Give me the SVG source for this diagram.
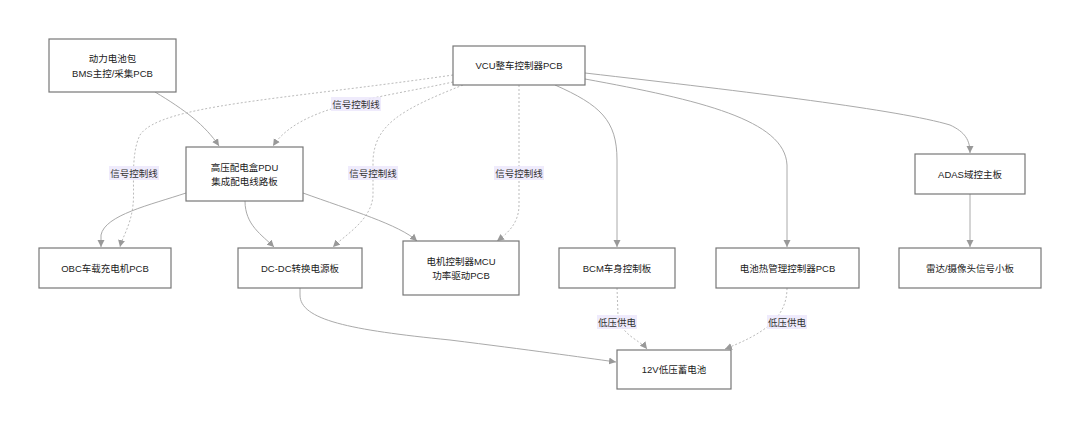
<svg xmlns="http://www.w3.org/2000/svg" width="1080" height="428" viewBox="0 0 1080 428">
<style>
.node rect{fill:#fff;stroke:#777;stroke-width:1.2}
.node text{font-family:"Liberation Sans","Noto Sans CJK SC",sans-serif;font-size:9.5px;fill:#222;text-anchor:middle;dominant-baseline:central}
.e{fill:none;stroke:#aaa;stroke-width:1}
.d{fill:none;stroke:#bbb;stroke-width:1;stroke-dasharray:2,2}
.lbl rect{fill:#ece8fb;opacity:0.85}
.lbl text{font-family:"Liberation Sans","Noto Sans CJK SC",sans-serif;font-size:9.5px;fill:#333;text-anchor:middle;dominant-baseline:central}
</style>
<defs>
<marker id="ah" markerUnits="userSpaceOnUse" markerWidth="8" markerHeight="8" refX="7" refY="4" orient="auto">
<path d="M0,0.5 L7,4 L0,7.5 z" fill="#999"/>
</marker>
</defs>
<rect width="1080" height="428" fill="#fff"/>
<g id="connectors">
<path class="e" d="M155,92 C185,110 205,125 219,146" marker-end="url(#ah)"/>
<path class="d" d="M453,82 C380,98 300,105 273,146" marker-end="url(#ah)"/>
<path class="d" d="M453,75 C280,100 160,105 140,135 C130,155 135,190 133,205 C131,225 122,238 120,247" marker-end="url(#ah)"/>
<path class="d" d="M463,85 C400,110 375,125 373,160 L373,195 C372,220 345,235 333,247" marker-end="url(#ah)"/>
<path class="d" d="M519,85 L519,205 C519,225 505,235 497,241" marker-end="url(#ah)"/>
<path class="e" d="M555,85 C600,105 617,120 617,160 L617,247" marker-end="url(#ah)"/>
<path class="e" d="M585,79 C700,100 785,120 787,165 L787,247" marker-end="url(#ah)"/>
<path class="e" d="M585,73 C750,92 900,110 950,125 C965,132 970,140 970,153" marker-end="url(#ah)"/>
<path class="e" d="M186,193 C150,205 105,215 101,235 L101,247" marker-end="url(#ah)"/>
<path class="e" d="M245,201 C245,225 262,235 274,247" marker-end="url(#ah)"/>
<path class="e" d="M303,193 C350,210 400,225 417,241" marker-end="url(#ah)"/>
<path class="e" d="M970,194 L970,247" marker-end="url(#ah)"/>
<path class="e" d="M300,288 L300,295 C300,320 350,330 450,340 C530,350 580,357 616,362" marker-end="url(#ah)"/>
<path class="d" d="M617,288 L618,315 C620,335 640,340 647,349" marker-end="url(#ah)"/>
<path class="d" d="M787,288 C787,320 760,335 725,349" marker-end="url(#ah)"/>
<g class="lbl"><rect x="331" y="97" width="50" height="14"/><text x="356" y="104">信号控制线</text></g>
<g class="lbl"><rect x="109" y="166" width="50" height="14"/><text x="134" y="173">信号控制线</text></g>
<g class="lbl"><rect x="348" y="166" width="50" height="14"/><text x="373" y="173">信号控制线</text></g>
<g class="lbl"><rect x="494" y="166" width="50" height="14"/><text x="519" y="173">信号控制线</text></g>
<g class="lbl"><rect x="597" y="315" width="40" height="14"/><text x="617" y="322">低压供电</text></g>
<g class="lbl"><rect x="767" y="315" width="40" height="14"/><text x="787" y="322">低压供电</text></g>
</g>
<g id="bms" class="node"><rect x="49" y="39" width="127" height="53"/><text x="112.5" y="58">动力电池包</text><text x="112.5" y="73">BMS主控/采集PCB</text></g>
<g id="vcu" class="node"><rect x="453" y="46" width="132" height="39"/><text x="519" y="65.5">VCU整车控制器PCB</text></g>
<g id="pdu" class="node"><rect x="186" y="147" width="117" height="54"/><text x="244.5" y="167">高压配电盒PDU</text><text x="244.5" y="181">集成配电线路板</text></g>
<g id="adas" class="node"><rect x="915" y="154" width="110" height="40"/><text x="970" y="174">ADAS域控主板</text></g>
<g id="obc" class="node"><rect x="39" y="248" width="132" height="40"/><text x="105" y="268">OBC车载充电机PCB</text></g>
<g id="dcdc" class="node"><rect x="238" y="248" width="124" height="40"/><text x="300" y="268">DC-DC转换电源板</text></g>
<g id="mcu" class="node"><rect x="403" y="241" width="116" height="54"/><text x="461" y="261">电机控制器MCU</text><text x="461" y="275">功率驱动PCB</text></g>
<g id="bcm" class="node"><rect x="559" y="248" width="116" height="40"/><text x="617" y="268">BCM车身控制板</text></g>
<g id="tms" class="node"><rect x="716" y="248" width="143" height="40"/><text x="787.5" y="268">电池热管理控制器PCB</text></g>
<g id="radar" class="node"><rect x="899" y="248" width="142" height="40"/><text x="970" y="268">雷达/摄像头信号小板</text></g>
<g id="lv" class="node"><rect x="617" y="350" width="114" height="39"/><text x="674" y="369.5">12V低压蓄电池</text></g>
</svg>
